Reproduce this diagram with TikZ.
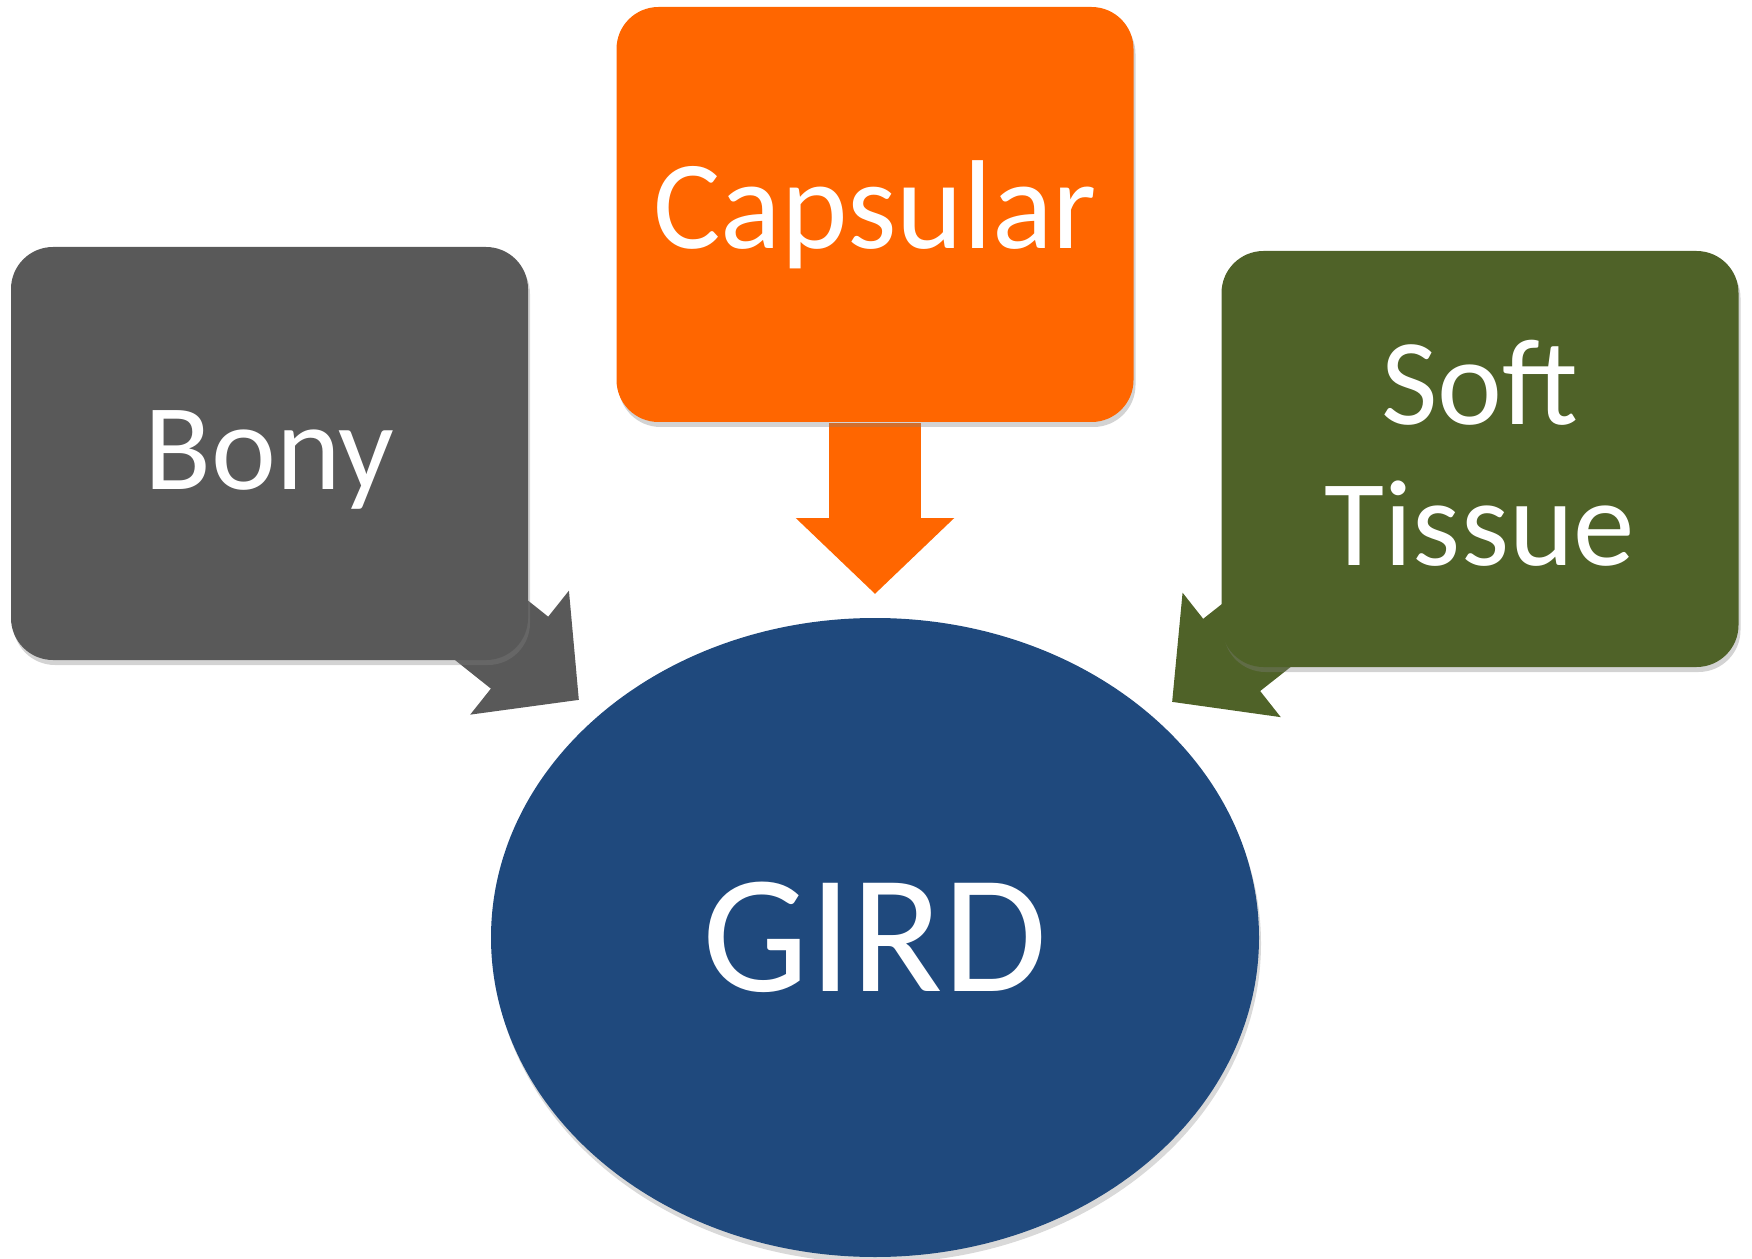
\documentclass[tikz,border=0pt]{standalone}
\usepackage{fontspec}
\setmainfont{Carlito}
\usetikzlibrary{shapes.geometric, arrows.meta, backgrounds, shadows}

\definecolor{capsorange}{HTML}{FF6600}
\definecolor{bonygray}{HTML}{595959}
\definecolor{softgreen}{HTML}{4F6228}
\definecolor{girdblue}{HTML}{1F497D}

\begin{document}
\begin{tikzpicture}[thick,
        box/.style = {rounded corners=0.42cm, minimum width=5.17cm, minimum height=4.13cm,
            text=white, align=center, inner sep=0pt,
            drop shadow={opacity=0.35, shadow xshift=0.02cm, shadow yshift=-0.05cm}},
        main/.style = {ellipse, minimum width=7.68cm, minimum height=6.39cm, inner sep=0pt,
            fill=girdblue, text=white, font=\fontsize{48}{56}\selectfont,
            drop shadow={opacity=0.3, shadow xshift=0.02cm, shadow yshift=-0.06cm}},
        bigarrow/.style = {line width=0.92cm, -{Triangle[length=0.76cm 0 0, width=1.54cm 0 0]}}
    ]
        \useasboundingbox (0,0) rectangle (17.52,-12.59);

        \node[box, fill=capsorange, minimum height=4.15cm, font=\fontsize{36}{43}\selectfont] (cap) at (8.75,-2.145) {Capsular};
        \node[box, fill=bonygray, font=\fontsize{35}{42}\selectfont] (bony) at (2.695,-4.535) {\raisebox{-0.067cm}[\height][\depth]{Bony}};
        \node[box, fill=softgreen, minimum height=4.16cm, font=\fontsize{35}{40}\selectfont] (soft) at (14.80,-4.59) {\raisebox{0.056cm}[\height][\depth]{Soft}\\\raisebox{0.056cm}[\height][\depth]{Tissue}};
        \node[main] (gird) at (8.75,-9.375) {GIRD};

        \coordinate (capTip) at (8.75,-5.94);
        \coordinate (bonyTip) at (5.79,-7.00);
        \coordinate (softTip) at (11.72,-7.02);

        \begin{scope}[on background layer]
        \draw[bigarrow, capsorange] (cap.south) -- (capTip);
        \draw[bigarrow, bonygray] (bony.center) -- (bonyTip);
        \draw[bigarrow, softgreen] (soft.center) -- (softTip);
        \end{scope}

    \end{tikzpicture}
\end{document}
